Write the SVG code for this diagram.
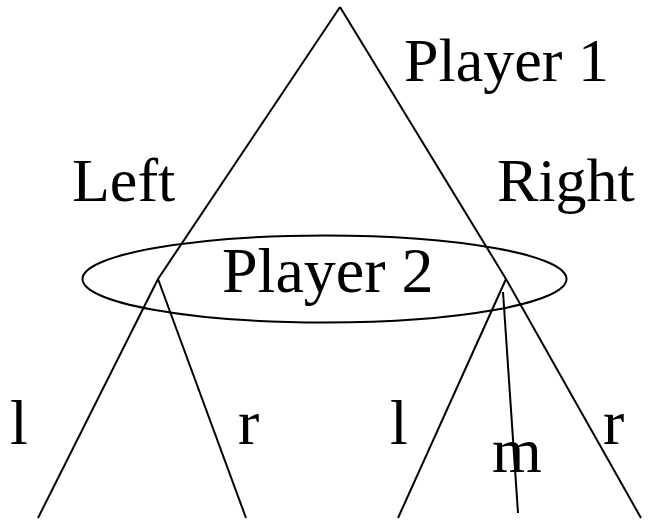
<svg xmlns="http://www.w3.org/2000/svg" width="654" height="524" viewBox="0 0 654 524">
<style>
.e{stroke:#000;stroke-width:2;fill:none;stroke-linecap:butt;stroke-linejoin:miter}
.t{font-family:"Liberation Serif","Times New Roman",serif;fill:#000}
</style>
<rect width="654" height="524" fill="#fff"/>
<g id="connectors">
<line class="e" x1="340" y1="7" x2="158" y2="279"/>
<line class="e" x1="340" y1="7" x2="506" y2="279"/>
<line class="e" x1="158" y1="279" x2="38" y2="518"/>
<line class="e" x1="158" y1="279" x2="246" y2="518"/>
<line class="e" x1="506" y1="279" x2="398" y2="518"/>
<line class="e" x1="503" y1="292" x2="518" y2="513"/>
<line class="e" x1="506" y1="279" x2="641" y2="518"/>
<text class="t" x="72" y="201" font-size="62">Left</text>
<text class="t" x="497" y="201" font-size="62">Right</text>
<text class="t" x="10" y="444" font-size="64">l</text>
<text class="t" x="238" y="444" font-size="64">r</text>
<text class="t" x="390" y="444" font-size="64">l</text>
<text class="t" x="492" y="472" font-size="64">m</text>
<text class="t" x="603" y="444" font-size="64">r</text>
</g>
<g id="player1">
<text class="t" x="404" y="81" font-size="62">Player 1</text>
</g>
<g id="player2">
<ellipse class="e" cx="324.5" cy="279" rx="242" ry="43.5"/>
<text class="t" x="222" y="292" font-size="64">Player 2</text>
</g>
</svg>
